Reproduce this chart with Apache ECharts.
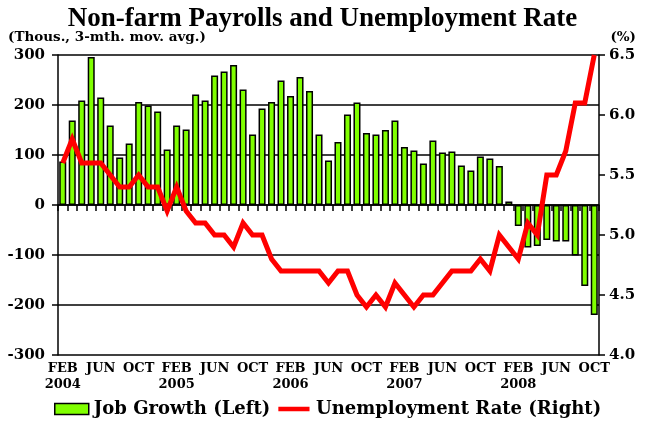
<!DOCTYPE html>
<html>
<head>
<meta charset="utf-8">
<script src="https://cdn.jsdelivr.net/npm/echarts@6/dist/echarts.min.js"></script>
<style>
  html, body { margin: 0; padding: 0; background: #fff; }
  #chart { width: 645px; height: 423px; }
</style>
</head>
<body>
<div id="chart"></div>
<script>
// Monthly observations, Feb 2004 through Oct 2008
const monthNames = ['JAN','FEB','MAR','APR','MAY','JUN','JUL','AUG','SEP','OCT','NOV','DEC'];
const startYear = 2004, startMonth = 1, monthCount = 57;
const categories = [];
for (let k = 0; k < monthCount; k++) {
  const m = (startMonth + k) % 12;
  const y = startYear + Math.floor((startMonth + k) / 12);
  categories.push(monthNames[m] + ' ' + y);
}

// Non-farm payroll growth, thousands, 3-month moving average
const jobGrowth = [
  87, 169, 209, 296, 215, 159, 95, 123, 206, 199, 187, 111,
  159, 151, 221, 209, 259, 267, 280, 231, 141, 193, 206, 249,
  218, 256, 228, 141, 89, 126, 181, 205, 144, 141, 150, 169,
  116, 109, 83, 129, 105, 107, 79, 69, 97, 93, 78, 7,
  -42, -85, -82, -70, -73, -73, -101, -162, -220
];

// Unemployment rate, percent
const unemploymentRate = [
  5.6, 5.8, 5.6, 5.6, 5.6, 5.5, 5.4, 5.4, 5.5, 5.4, 5.4, 5.2,
  5.4, 5.2, 5.1, 5.1, 5.0, 5.0, 4.9, 5.1, 5.0, 5.0, 4.8, 4.7,
  4.7, 4.7, 4.7, 4.7, 4.6, 4.7, 4.7, 4.5, 4.4, 4.5, 4.4, 4.6,
  4.5, 4.4, 4.5, 4.5, 4.6, 4.7, 4.7, 4.7, 4.8, 4.7, 5.0, 4.9,
  4.8, 5.1, 5.0, 5.5, 5.5, 5.7, 6.1, 6.1, 6.5
];

const leftTicks = { min: -300, max: 300, step: 100 };
const rightTicks = { min: 4.0, max: 6.5, step: 0.5 };

const serif = '"DejaVu Serif", serif';
const titleSerif = '"Liberation Serif", serif';

// Legend swatch for the rate line: a thick horizontal stroke centred in the icon box
const lineSwatch = 'path://M0,0L34,0L34,0.01L0,0.01Z M0,3.5L34,3.5L34,8.5L0,8.5Z M0,11.99L34,11.99L34,12L0,12Z';

const chart = echarts.init(document.getElementById('chart'), null, { renderer: 'canvas' });

chart.setOption({
  animation: false,
  backgroundColor: '#ffffff',
  title: {
    text: 'Non-farm Payrolls and Unemployment Rate',
    left: 'center',
    top: 1,
    textStyle: { fontFamily: titleSerif, fontWeight: 'bold', fontSize: 27, color: '#000' }
  },
  graphic: [
    { type: 'text', left: 8, top: 30,
      style: { text: '(Thous., 3-mth. mov. avg.)', font: 'bold 13.5px ' + serif, fill: '#000' } },
    { type: 'text', right: 9, top: 30,
      style: { text: '(%)', font: 'bold 13.5px ' + serif, fill: '#000' } }
  ],
  legend: {
    bottom: 5,
    left: 54,
    padding: 0,
    itemGap: 8,
    itemWidth: 34,
    itemHeight: 11,
    textStyle: { fontFamily: serif, fontWeight: 'bold', fontSize: 18, color: '#000' },
    data: [
      { name: 'Job Growth (Left)', icon: 'rect',
        itemStyle: { color: '#80ff00', borderColor: '#000', borderWidth: 1.5 } },
      { name: 'Unemployment Rate (Right)', icon: lineSwatch,
        itemStyle: { color: '#ff0000', borderWidth: 0 } }
    ]
  },
  grid: { left: 58, right: 46, top: 55, bottom: 68 },
  xAxis: {
    type: 'category',
    data: categories,
    boundaryGap: true,
    axisLine: { lineStyle: { color: '#000', width: 1.5 } },
    axisTick: { show: true, interval: 0, length: 6, lineStyle: { color: '#000', width: 1.5 } },
    axisLabel: {
      interval: 3,
      margin: 6,
      color: '#000',
      fontFamily: serif,
      fontWeight: 'bold',
      fontSize: 13,
      lineHeight: 16,
      formatter: function (v) {
        const parts = v.split(' ');
        return parts[0] === 'FEB' ? parts[0] + '\n' + parts[1] : parts[0];
      }
    },
    splitLine: { show: false }
  },
  yAxis: [
    {
      type: 'value',
      min: leftTicks.min, max: leftTicks.max, interval: leftTicks.step,
      axisLine: { show: true, lineStyle: { color: '#000', width: 1.5 } },
      axisTick: { show: true, length: 6, lineStyle: { color: '#000', width: 1.5 } },
      axisLabel: { margin: 13, color: '#000', fontFamily: serif, fontWeight: 'bold', fontSize: 15 },
      splitLine: { show: true, lineStyle: { color: '#000', width: 1.5 } }
    },
    {
      type: 'value',
      position: 'right',
      min: rightTicks.min, max: rightTicks.max, interval: rightTicks.step,
      axisLine: { show: true, lineStyle: { color: '#000', width: 1.5 } },
      axisTick: { show: true, length: 6, lineStyle: { color: '#000', width: 1.5 } },
      axisLabel: { margin: 10, color: '#000', fontFamily: serif, fontWeight: 'bold', fontSize: 15,
        formatter: function (v) { return v.toFixed(1); } },
      splitLine: { show: false }
    }
  ],
  series: [
    {
      name: 'Job Growth (Left)',
      type: 'bar',
      yAxisIndex: 0,
      data: jobGrowth,
      barCategoryGap: '26%',
      itemStyle: { color: '#80ff00', borderColor: '#000', borderWidth: 1.5 },
      z: 2
    },
    {
      name: 'Unemployment Rate (Right)',
      type: 'line',
      yAxisIndex: 1,
      data: unemploymentRate,
      showSymbol: false,
      symbol: 'none',
      lineStyle: { color: '#ff0000', width: 5, join: 'miter' },
      itemStyle: { color: '#ff0000' },
      z: 3
    }
  ]
});
</script>
</body>
</html>
